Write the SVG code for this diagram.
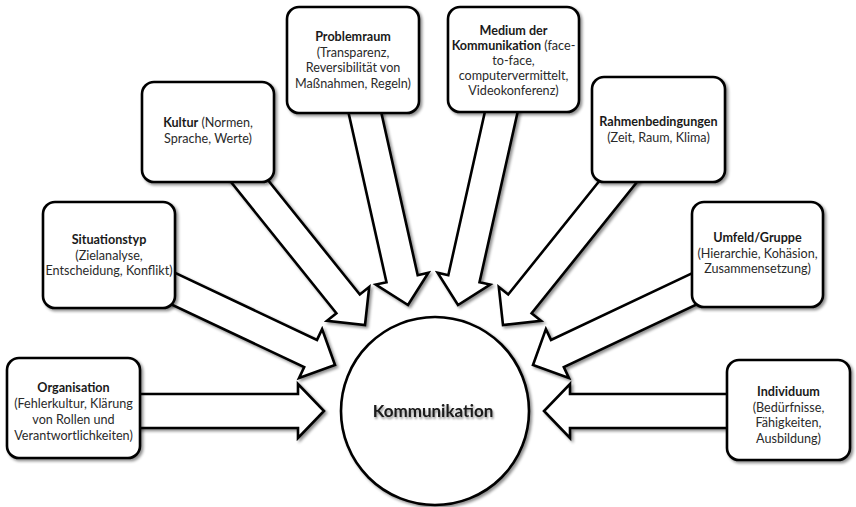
<svg xmlns="http://www.w3.org/2000/svg" width="856" height="507" viewBox="0 0 856 507">
  <defs>
    <filter id="shadow" x="-20%" y="-20%" width="140%" height="140%">
      <feGaussianBlur in="SourceAlpha" stdDeviation="1.6"/>
      <feOffset dx="2" dy="2" result="b"/>
      <feComponentTransfer><feFuncA type="linear" slope="0.45"/></feComponentTransfer>
      <feMerge><feMergeNode/><feMergeNode in="SourceGraphic"/></feMerge>
    </filter>
    <filter id="tshadow" x="-10%" y="-30%" width="120%" height="160%">
      <feGaussianBlur in="SourceAlpha" stdDeviation="1.2"/>
      <feOffset dx="1" dy="1.5"/>
      <feComponentTransfer><feFuncA type="linear" slope="0.45"/></feComponentTransfer>
      <feMerge><feMergeNode/><feMergeNode in="SourceGraphic"/></feMerge>
    </filter>
  </defs>
  <style>
    .box { fill: #ffffff; stroke: #000000; stroke-width: 2.6; filter: url(#shadow); }
    .arrow { fill: #ffffff; stroke: #000000; stroke-width: 2.6; stroke-linejoin: miter; filter: url(#shadow); }
    .lbl { font-family: Lato, "Liberation Sans", sans-serif; font-size: 12.6px; fill: #2a2a2a; text-anchor: middle; }
    .b { font-weight: bold; fill: #1a1a1a; }
    .center { font-family: Lato, "Liberation Sans", sans-serif; font-size: 17px; font-weight: bold; fill: #1a1a1a; text-anchor: middle; filter: url(#tshadow); }
  </style>
  <rect width="856" height="507" fill="#ffffff"/>

  <!-- block arrows pointing at the centre -->
  <g id="connectors">
    <polygon class="arrow" points="130,394 298,394 298,384 324,411 298,438 298,428 130,428"/>
    <polygon class="arrow" points="160.3,265.9 317,339.9 322.1,329.1 335,365 299.1,377.9 304.2,367.1 147.5,293.1"/>
    <polygon class="arrow" points="250.2,158 359.8,294.5 369.2,287 365,325 327,320.8 336.4,313.3 226.8,176.8"/>
    <polygon class="arrow" points="378.4,99.7 417.7,275.2 428.4,272.8 408,305 375.8,284.6 386.5,282.2 347.2,106.7"/>
    <polygon class="arrow" points="487.6,99.7 448.3,275.2 437.6,272.8 458,305 490.2,284.6 479.5,282.2 518.8,106.7"/>
    <polygon class="arrow" points="617.8,158 508.2,294.5 498.8,287 503,325 541,320.8 531.6,313.3 641.2,176.8"/>
    <polygon class="arrow" points="707.7,265.9 551,339.9 545.9,329.1 533,365 568.9,377.9 563.8,367.1 720.5,293.1"/>
    <polygon class="arrow" points="738,394 570,394 570,384 544,411 570,438 570,428 738,428"/>
  </g>

  <g id="kommunikation">
    <circle cx="435" cy="411" r="94" fill="#ffffff" stroke="#000000" stroke-width="2.6" filter="url(#shadow)"/>
    <text class="center" x="433" y="417">Kommunikation</text>
  </g>

  <g id="organisation">
    <rect class="box" x="7" y="358" width="133" height="100" rx="12"/>
    <text class="lbl" x="73.5"><tspan class="b" x="73.5" y="392">Organisation</tspan><tspan x="73.5" y="408">(Fehlerkultur, Klärung</tspan><tspan x="73.5" y="424">von Rollen und</tspan><tspan x="73.5" y="440">Verantwortlichkeiten)</tspan></text>
  </g>

  <g id="situationstyp">
    <rect class="box" x="43" y="202" width="132" height="106" rx="12"/>
    <text class="lbl" x="109"><tspan class="b" x="109" y="244">Situationstyp</tspan><tspan x="109" y="259.5">(Zielanalyse,</tspan><tspan x="109" y="275">Entscheidung, Konflikt)</tspan></text>
  </g>

  <g id="kultur">
    <rect class="box" x="142" y="82" width="132" height="100" rx="12"/>
    <text class="lbl" x="208"><tspan x="208" y="127"><tspan class="b">Kultur</tspan> (Normen,</tspan><tspan x="208" y="142.5">Sprache, Werte)</tspan></text>
  </g>

  <g id="problemraum">
    <rect class="box" x="287" y="7" width="132" height="106" rx="12"/>
    <text class="lbl" x="353"><tspan class="b" x="353" y="41">Problemraum</tspan><tspan x="353" y="56.5">(Transparenz,</tspan><tspan x="353" y="72">Reversibilität von</tspan><tspan x="353" y="87.5">Maßnahmen, Regeln)</tspan></text>
  </g>

  <g id="medium">
    <rect class="box" x="448" y="7" width="131" height="105" rx="12"/>
    <text class="lbl" x="513.5"><tspan class="b" x="513.5" y="35">Medium der</tspan><tspan x="513.5" y="50"><tspan class="b">Kommunikation</tspan> (face-</tspan><tspan x="513.5" y="65">to-face,</tspan><tspan x="513.5" y="80">computervermittelt,</tspan><tspan x="513.5" y="95">Videokonferenz)</tspan></text>
  </g>

  <g id="rahmenbedingungen">
    <rect class="box" x="592" y="77" width="133" height="105" rx="12"/>
    <text class="lbl" x="658.5"><tspan class="b" x="658.5" y="126">Rahmenbedingungen</tspan><tspan x="658.5" y="141.5">(Zeit, Raum, Klima)</tspan></text>
  </g>

  <g id="umfeld">
    <rect class="box" x="692" y="202" width="131" height="105" rx="12"/>
    <text class="lbl" x="757.5"><tspan class="b" x="757.5" y="242">Umfeld/Gruppe</tspan><tspan x="757.5" y="257.5">(Hierarchie, Kohäsion,</tspan><tspan x="757.5" y="273">Zusammensetzung)</tspan></text>
  </g>

  <g id="individuum">
    <rect class="box" x="727" y="360" width="123" height="100" rx="12"/>
    <text class="lbl" x="788.5"><tspan class="b" x="788.5" y="396">Individuum</tspan><tspan x="788.5" y="411.5">(Bedürfnisse,</tspan><tspan x="788.5" y="427">Fähigkeiten,</tspan><tspan x="788.5" y="442.5">Ausbildung)</tspan></text>
  </g>
</svg>
